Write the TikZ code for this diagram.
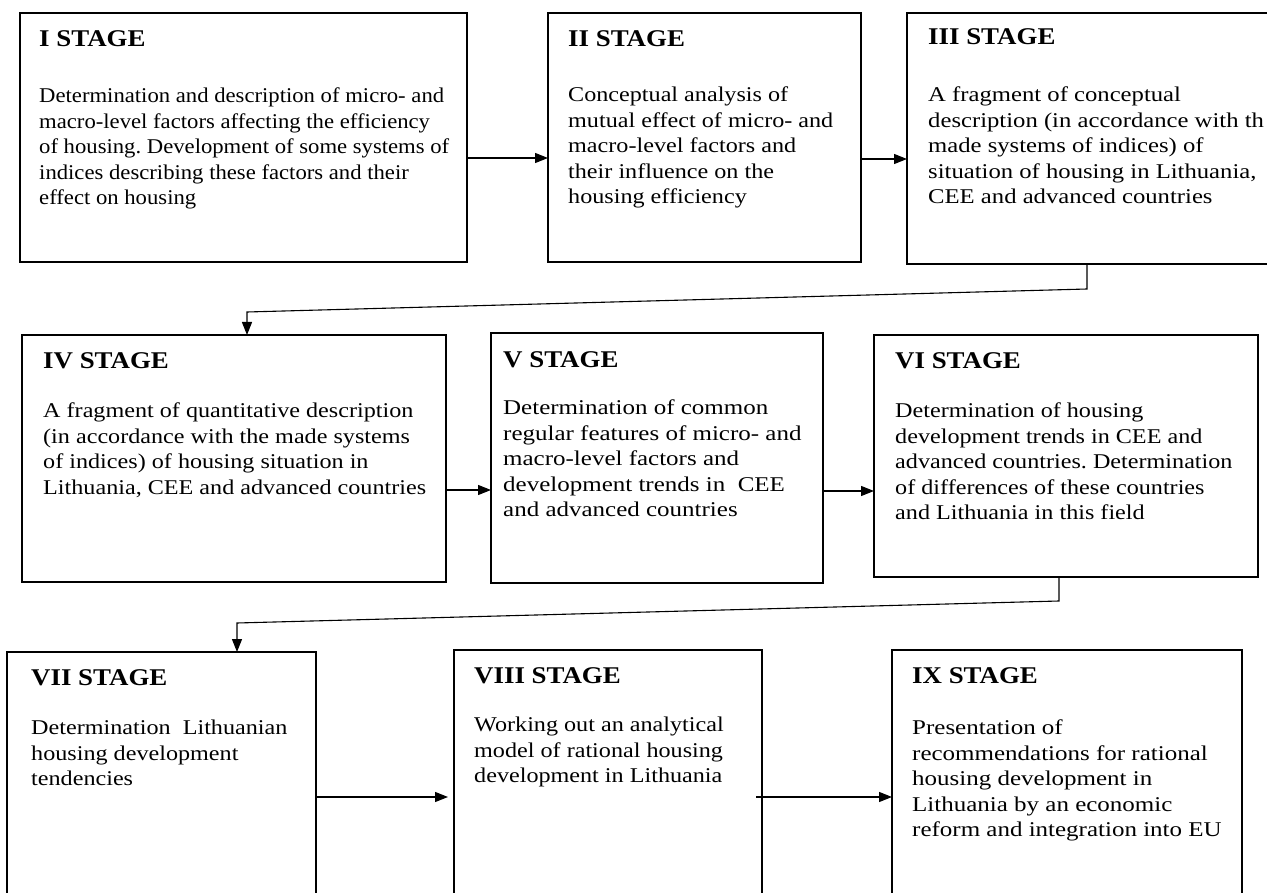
\documentclass[tikz,border=0pt]{standalone}
\usepackage{fontspec}
\setmainfont{Liberation Serif}
\newfontfamily\titlefont[FakeStretch=1.12]{Liberation Serif}
\newfontfamily\bodyfontA[FakeStretch=1.08]{Liberation Serif}
\newfontfamily\bodyfontB[FakeStretch=1.15]{Liberation Serif}
\newfontfamily\bodyfontC[FakeStretch=1.19]{Liberation Serif}
\newfontfamily\bodyfontD[FakeStretch=1.175]{Liberation Serif}
\usetikzlibrary{arrows.meta}
\frenchspacing
\tikzset{
  stagebox/.style={draw=black, line width=1.6pt, rectangle, inner sep=0pt, outer sep=0pt, anchor=north west, fill=none},
  stagetitle/.style={anchor=base west, inner sep=0pt, font=\titlefont\bfseries\fontsize{24}{28}\selectfont},
  stagebody/.style={anchor=north west, inner sep=0pt, align=left, execute at begin node={\rule{0pt}{20pt}}},
  widthA/.style={font=\bodyfontA\fontsize{21}{25.5}\selectfont\frenchspacing},
  widthB/.style={font=\bodyfontB\fontsize{21}{25.5}\selectfont\frenchspacing},
  widthC/.style={font=\bodyfontC\fontsize{21}{25.5}\selectfont\frenchspacing},
  widthD/.style={font=\bodyfontD\fontsize{21}{25.5}\selectfont\frenchspacing},
  conn/.style={draw=black, line width=1.1pt, -{Triangle[length=13pt,width=10pt]}},
}
\begin{document}
\begin{tikzpicture}[x=1pt,y=-1pt]
\clip (0,0) rectangle (1267,893);
\fill[white] (0,0) rectangle (1267,893);

% boxes
\node[stagebox, minimum width=447pt, minimum height=249pt] (s1) at (20,13) {};
\node[stagebox, minimum width=313pt, minimum height=249pt] (s2) at (548,13) {};
\node[stagebox, minimum width=380pt, minimum height=251pt] (s3) at (907,13) {};
\node[stagebox, minimum width=424pt, minimum height=247pt] (s4) at (22,335) {};
\node[stagebox, minimum width=332pt, minimum height=250pt] (s5) at (491,333) {};
\node[stagebox, minimum width=384pt, minimum height=242pt] (s6) at (874,335) {};
\node[stagebox, minimum width=309pt, minimum height=260pt] (s7) at (7,652) {};
\node[stagebox, minimum width=308pt, minimum height=262pt] (s8) at (454,650) {};
\node[stagebox, minimum width=350pt, minimum height=262pt] (s9) at (892,650) {};

% titles
\node[stagetitle] (h1) at (39,47) {I STAGE};
\node[stagetitle] (h2) at (568,47) {II STAGE};
\node[stagetitle] (h3) at (928,45) {III STAGE};
\node[stagetitle] (h4) at (43,369) {IV STAGE};
\node[stagetitle] (h5) at (503,368) {V STAGE};
\node[stagetitle] (h6) at (895,369) {VI STAGE};
\node[stagetitle] (h7) at (31,685) {VII STAGE};
\node[stagetitle] (h8) at (474,683) {VIII STAGE};
\node[stagetitle] (h9) at (912,683) {IX STAGE};

% bodies (top of node = first baseline - 20)
\node[stagebody, widthA] (t1) at (39,88) {Determination and description of micro- and\\macro-level factors affecting the efficiency\\of housing. Development of some systems of\\indices describing these factors and their\\effect on housing};
\node[stagebody, widthB] (t2) at (568,87) {Conceptual analysis of\\mutual effect of micro- and\\macro-level factors and\\their influence on the\\housing efficiency};
\node[stagebody, widthD] (t3) at (928,87) {A fragment of conceptual\\description (in accordance with th\\made systems of indices) of\\situation of housing in Lithuania,\\CEE and advanced countries};
\node[stagebody, widthB] (t4) at (43,403) {A fragment of quantitative description\\(in accordance with the made systems\\of indices) of housing situation in\\Lithuania, CEE and advanced countries};
\node[stagebody, widthC] (t5) at (503,400) {Determination of common\\regular features of micro- and\\macro-level factors and\\development trends in\ \ CEE\\and advanced countries};
\node[stagebody, widthB] (t6) at (895,403) {Determination of housing\\development trends in CEE and\\advanced countries. Determination\\of differences of these countries\\and Lithuania in this field};
\node[stagebody, widthB] (t7) at (31,720) {Determination\ \ Lithuanian\\housing development\\tendencies};
\node[stagebody, widthB] (t8) at (474,717) {Working out an analytical\\model of rational housing\\development in Lithuania};
\node[stagebody, widthC] (t9) at (912,720) {Presentation of\\recommendations for rational\\housing development in\\Lithuania by an economic\\reform and integration into EU};

% helper coordinates
\coordinate (r1) at (0,158);
\coordinate (r2) at (0,159);
\coordinate (r4) at (0,490);
\coordinate (r5) at (0,491);
\coordinate (r7) at (0,797);
\coordinate (a1) at (1087,289);
\coordinate (a2) at (247,312);
\coordinate (b1) at (1059,601);
\coordinate (b2) at (237,623);

% connectors
\draw[conn] (s1.east |- r1) -- (s2.west |- r1);
\draw[conn] (s2.east |- r2) -- (s3.west |- r2);
\draw[conn] (s3.south -| a1) -- (a1) -- (a2) -- (s4.north -| a2);
\draw[conn] (s4.east |- r4) -- (s5.west |- r4);
\draw[conn] (s5.east |- r5) -- (s6.west |- r5);
\draw[conn] (s6.south -| b1) -- (b1) -- (b2) -- (s7.north -| b2);
\draw[conn, shorten >=6pt] (s7.east |- r7) -- (s8.west |- r7);
\draw[conn, shorten <=-6pt] (s8.east |- r7) -- (s9.west |- r7);
\end{tikzpicture}
\end{document}
